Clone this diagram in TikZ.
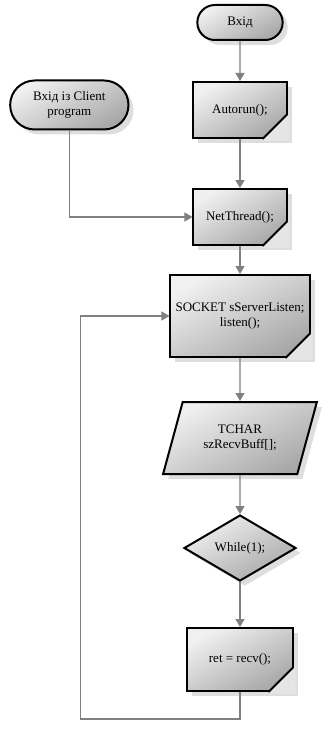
\documentclass[tikz,border=0pt]{standalone}
\usepackage{fontspec}
\setmainfont{Liberation Serif}
\usepackage{tikz}
\usetikzlibrary{positioning,arrows.meta,calc,shapes.misc,shapes.geometric,shadows}

\newcommand{\pagefold}[1]{%
  \fill[black!10] ($(#1.south east)+(-27pt,-2pt)$) -- ($(#1.south east)+(2pt,-2pt)$)
    -- ($(#1.south east)+(2pt,27pt)$) -- cycle;
  \draw[line width=2pt] ($(#1.south east)+(-25pt,0pt)$) -- ($(#1.south east)+(0pt,25pt)$);}

\begin{document}
\begin{tikzpicture}[
      every node/.style={font=\fontsize{13}{15}\selectfont},
      shade/.style={top color=black!6,bottom color=black!34,shading angle=30,
                    line width=2pt,draw=black,align=center,
                    drop shadow={shadow xshift=5pt,shadow yshift=-5pt,fill=black!13,opacity=1}},
      term/.style={shade,rounded rectangle,minimum width=92pt,minimum height=35pt},
      proc/.style={shade,rectangle,minimum width=93pt,minimum height=56pt},
      data/.style={shade,trapezium,trapezium left angle=67,trapezium right angle=113,
                   trapezium stretches=true,minimum width=154pt,minimum height=72pt},
      cond/.style={shade,diamond,aspect=1.68,minimum width=112pt,minimum height=66pt,inner sep=1pt},
      arr/.style={-{Triangle[length=8pt,width=9pt]},line width=1.3pt,draw=black!50},
    ]
    \useasboundingbox (-240pt,22.5pt) rectangle (88pt,-710.5pt);

    % Node layout
    \node[term] (start) {Вхід};
    \node[proc,below=40pt of start] (autorun) {Autorun();};
    \node[term,left=63pt of autorun,yshift=5pt,minimum width=125pt,minimum height=49pt] (client) {Вхід із Client\\program};
    \node[proc,below=49pt of autorun] (net) {NetThread();};
    \node[proc,below=28pt of net,minimum width=139pt,minimum height=82pt] (socket) {SOCKET sServerListen;\\listen();};
    \node[data,below=43pt of socket] (buff) {TCHAR\\szRecvBuff[];};
    \node[cond,below=39pt of buff] (loop) {While(1);};
    \node[proc,below=45pt of loop,minimum width=105pt,minimum height=63pt] (recv) {ret = recv();};
    \coordinate[below=27pt of recv.south] (back);
    \coordinate[left=89pt of socket.west] (side);

    % Folded corners
    \pagefold{autorun}
    \pagefold{net}
    \pagefold{socket}
    \pagefold{recv}

    % Arrow connections
    \draw[arr] (start) -- (autorun);
    \draw[arr] (autorun) -- (net);
    \draw[arr] (client) |- (net);
    \draw[arr] (net) -- (socket);
    \draw[arr] (socket) -- (buff);
    \draw[arr] (buff) -- (loop);
    \draw[arr] (loop) -- (recv);
    \draw[arr] (recv) -- (back) -| (side) -- (socket);

  \end{tikzpicture}
\end{document}
